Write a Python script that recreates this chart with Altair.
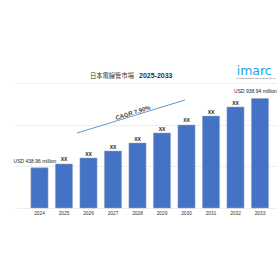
import altair as alt
import pandas as pd

years = ["2024", "2025", "2026", "2027", "2028", "2029", "2030", "2031", "2032", "2033"]
values = [438.96, 467, 510, 560, 618, 690, 748, 812, 877, 938.94]
labels = ["USD 438.96 million", "XX", "XX", "XX", "XX", "XX", "XX", "XX", "XX", "USD 938.94 million"]
grid_ticks = [150, 300, 450, 600, 750, 900, 1050]

title_main = "日本電線管市場"
title_years = "2025-2033"
cagr_text = "CAGR 7.90%"
logo_text = "imarc"
logo_tag = "TRANSFORMING IDEAS INTO IMPACT"

df = pd.DataFrame({"year": years, "value": values, "label": labels})
df["is_usd"] = df["label"].str.startswith("USD")

W, H = 263, 125

xenc = alt.X(
    "year:N",
    sort=years,
    scale=alt.Scale(paddingInner=0.3, paddingOuter=0.517, align=0.667),
    axis=alt.Axis(
        title=None, ticks=False, domain=False, labelAngle=0, labelFontSize=4.8,
        labelColor="#333333", labelPadding=2, labelFont="Liberation Sans", grid=False,
    ),
)
yscale = alt.Scale(domain=[150, 1050], zero=False, nice=False)

base = alt.Chart(df)

bars = base.mark_bar(color="#4472C4", stroke="#9aa8c0", strokeWidth=0.5).encode(
    x=xenc,
    y=alt.Y(
        "value:Q", scale=yscale,
        axis=alt.Axis(
            title=None, values=grid_ticks, labels=False, ticks=False, domain=False,
            grid=True, gridColor="#ebebeb", gridWidth=0.8,
        ),
    ),
    y2=alt.datum(150),
)

xx_text = base.transform_filter("!datum.is_usd").mark_text(
    baseline="bottom", dy=-1.5, fontSize=5, fontWeight="bold", color="#222222",
    font="Liberation Sans",
).encode(x=alt.X("year:N", sort=years), y=alt.Y("value:Q", scale=yscale), text="label:N")

usd_text = base.transform_filter("datum.is_usd").mark_text(
    baseline="bottom", dy=-4, dx=-4.5, fontSize=5, color="#222222", font="Liberation Sans",
).encode(x=alt.X("year:N", sort=years), y=alt.Y("value:Q", scale=yscale), text="label:N")

one = pd.DataFrame({"t": [title_main], "y": [title_years], "c": [cagr_text],
                    "l": [logo_text], "g": [logo_tag]})
ann = alt.Chart(one)

t1 = ann.mark_text(align="right", baseline="middle", fontSize=6.3, color="#333333",
                   font="Noto Sans CJK JP").encode(
    x=alt.value(120), y=alt.value(-7.4), text="t:N")
t2 = ann.mark_text(align="left", baseline="middle", fontSize=7, fontWeight="bold",
                   color="#333333", font="Liberation Sans").encode(
    x=alt.value(125), y=alt.value(-7.4), text="y:N")

cagr_line = ann.mark_rule(color="#5b9bd5", strokeWidth=1).encode(
    x=alt.value(63), y=alt.value(50), x2=alt.value(171), y2=alt.value(17))
cagr_lbl = ann.mark_text(angle=343, fontSize=6, fontWeight="bold", color="#444444",
                         font="Liberation Sans", baseline="middle", align="center").encode(
    x=alt.value(119), y=alt.value(29.7), text="c:N")

logo = ann.mark_text(align="left", baseline="alphabetic", fontSize=12.5, color="#17a2e6",
                     font="DejaVu Sans").encode(
    x=alt.value(222.7), y=alt.value(-7.7), text="l:N")
tag = ann.mark_text(align="center", baseline="middle", fontSize=2.2, color="#555555",
                    font="Liberation Sans").encode(
    x=alt.value(242), y=alt.value(-5), text="g:N")

chart = alt.layer(bars, xx_text, usd_text, t1, t2, cagr_line, cagr_lbl, logo, tag).properties(
    width=W, height=H,
    autosize=alt.AutoSizeParams(type="none"),
    padding={"left": 14, "top": 83, "right": 3, "bottom": 72},
    background="white",
).configure_view(stroke=None)

chart.save("out.html", embed_options={"renderer": "svg", "actions": False})
